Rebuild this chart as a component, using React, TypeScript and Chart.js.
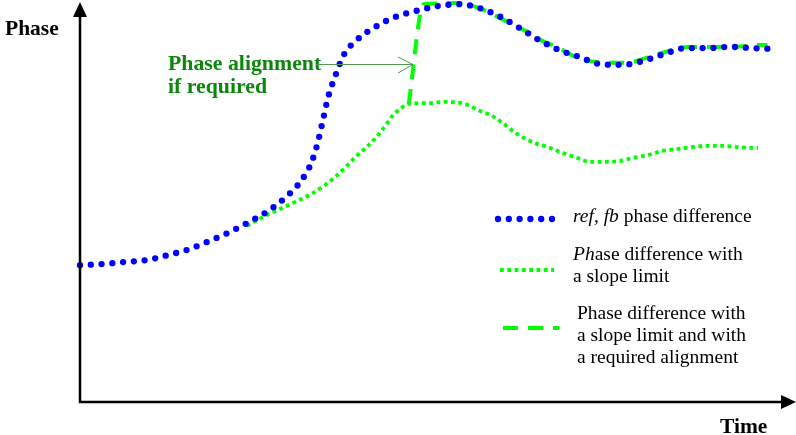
import React, { useEffect, useRef } from "react";
import { Chart, registerables } from "chart.js";

Chart.register(...registerables);

// Time / phase samples in arbitrary units (0..100 on both axes)
const refFbTime = [
  0.0, 3.2, 6.3, 9.4, 12.3, 15.3, 18.2, 21.0, 23.7, 26.4, 28.9, 31.0, 32.5, 33.4, 34.1, 34.8, 35.8, 37.0,
  38.8, 41.4, 44.2, 47.1, 50.1, 53.2, 56.1, 59.0, 61.7, 64.4, 67.2, 70.0, 72.9, 76.0, 79.0, 81.9, 85.0,
  88.1, 91.2, 94.2, 97.3,
];
const refFbPhase = [
  34.3, 34.6, 35.1, 35.6, 36.8, 38.3, 40.4, 42.6, 45.1, 47.9, 51.4, 55.4, 60.2, 65.4, 70.9, 76.4, 81.7, 87.0,
  90.7, 94.0, 96.5, 98.0, 99.2, 99.7, 98.7, 96.5, 93.7, 90.7, 88.2, 86.5, 84.7, 84.5, 85.5, 87.2, 88.7,
  88.7, 89.0, 88.7, 88.5,
];

const slopeTime = [
  23.4, 25.2, 27.1, 29.9, 32.7, 34.4, 35.8, 37.4, 38.8, 40.4, 41.8, 43.1, 43.8, 44.9, 46.0, 48.7, 51.2,
  54.0, 55.8, 57.8, 59.3, 61.1, 63.8, 65.6, 67.7, 69.7, 71.5, 73.6, 75.7, 77.6, 79.7, 81.6, 83.7, 85.8,
  87.9, 90.0, 92.1, 94.0, 95.1,
];
const slopePhase = [
  44.1, 45.9, 47.6, 49.9, 52.4, 54.4, 56.4, 59.1, 61.7, 64.2, 66.9, 69.9, 71.7, 73.4, 74.7, 74.9, 75.2,
  74.7, 73.2, 71.7, 69.9, 67.4, 64.9, 63.9, 62.4, 61.2, 60.2, 60.2, 60.4, 61.2, 61.9, 62.9, 63.4, 63.9,
  64.2, 64.2, 63.9, 63.7, 63.7,
];

const alignedTime = [
  46.1, 48.2, 50.2, 52.7, 54.7, 56.7, 58.9, 60.6, 62.8, 65.2, 66.9, 68.7, 70.1, 72.4, 74.8, 76.7, 79.0,
  81.1, 83.0, 85.3, 87.7, 91.2, 93.3, 95.1, 96.4,
];
const alignedPhase = [
  74.7, 99.7, 99.9, 100.0, 99.5, 98.2, 96.2, 94.7, 92.7, 90.2, 89.0, 87.2, 86.0, 85.2, 85.0, 85.0, 86.0,
  87.2, 88.2, 89.0, 89.0, 89.0, 89.2, 89.5, 89.5,
];

// Legend text, split into italic / upright runs, one array per printed line
type Run = { text: string; italic?: boolean };
const legendLines: Run[][][] = [
  [[{ text: "ref, fb", italic: true }, { text: " phase difference" }]],
  [[{ text: "Ph", italic: true }, { text: "ase difference with" }], [{ text: "a slope limit" }]],
  [
    [{ text: "Phase difference with" }],
    [{ text: "a slope limit and with" }],
    [{ text: "a required alignment" }],
  ],
];

const SERIF = '"Liberation Serif", "Times New Roman", serif';

const toPoints = (xs: number[], ys: number[]) => xs.map((x, i) => ({ x, y: ys[i] }));

function drawRuns(ctx: CanvasRenderingContext2D, runs: Run[], x: number, y: number, size: number) {
  let cx = x;
  for (const r of runs) {
    ctx.font = `${r.italic ? "italic " : ""}${size}px ${SERIF}`;
    ctx.fillText(r.text, cx, y);
    cx += ctx.measureText(r.text).width;
  }
}

const overlayPlugin = {
  id: "phaseOverlay",
  afterDraw(chart: any) {
    const ctx: CanvasRenderingContext2D = chart.ctx;
    const xs = chart.scales.x;
    const ys = chart.scales.y;
    const x0 = xs.getPixelForValue(0);
    const y0 = ys.getPixelForValue(0);
    ctx.save();

    // axes with arrow heads
    ctx.strokeStyle = "#000";
    ctx.fillStyle = "#000";
    ctx.lineWidth = 2.5;
    ctx.setLineDash([]);
    ctx.beginPath();
    ctx.moveTo(x0, y0 + 1.25);
    ctx.lineTo(x0, 16);
    ctx.moveTo(x0 - 1.25, y0);
    ctx.lineTo(783, y0);
    ctx.stroke();
    ctx.beginPath();
    ctx.moveTo(x0, 2);
    ctx.lineTo(x0 - 7, 17);
    ctx.lineTo(x0 + 7, 17);
    ctx.closePath();
    ctx.fill();
    ctx.beginPath();
    ctx.moveTo(796, y0);
    ctx.lineTo(781, y0 - 7);
    ctx.lineTo(781, y0 + 7);
    ctx.closePath();
    ctx.fill();

    // axis titles
    ctx.textBaseline = "alphabetic";
    ctx.textAlign = "left";
    ctx.font = `bold 21.5px ${SERIF}`;
    ctx.fillText("Phase", 5, 35);
    ctx.fillText("Time", 720, 433);

    // annotation
    ctx.fillStyle = "#0b870b";
    ctx.font = `bold 21.8px ${SERIF}`;
    ctx.fillText("Phase alignment", 168, 70);
    ctx.fillText("if required", 168, 93);
    ctx.strokeStyle = "#4f9a4f";
    ctx.lineWidth = 1;
    ctx.beginPath();
    ctx.moveTo(316, 64.5);
    ctx.lineTo(413, 64.5);
    ctx.moveTo(398, 57);
    ctx.lineTo(413, 64.5);
    ctx.lineTo(398, 73);
    ctx.stroke();

    // legend
    const samples = [
      { y: 219, x1: 498, x2: 557 },
      { y: 270, x1: 500, x2: 554 },
      { y: 328, x1: 503, x2: 559 },
    ];
    const textPos = [
      { x: 573, ys: [222] },
      { x: 573, ys: [260, 282] },
      { x: 577, ys: [319, 341, 363] },
    ];
    chart.data.datasets.forEach((ds: any, i: number) => {
      const s = samples[i];
      ctx.strokeStyle = ds.borderColor;
      ctx.lineWidth = ds.borderWidth;
      ctx.lineCap = ds.borderCapStyle;
      ctx.setLineDash(ds.borderDash);
      ctx.beginPath();
      ctx.moveTo(s.x1, s.y);
      ctx.lineTo(s.x2, s.y);
      ctx.stroke();
      ctx.setLineDash([]);
      ctx.fillStyle = "#000";
      legendLines[i].forEach((line, j) => drawRuns(ctx, line, textPos[i].x, textPos[i].ys[j], 19.5));
    });

    ctx.restore();
  },
};

export default function App() {
  const canvasRef = useRef<HTMLCanvasElement>(null);

  useEffect(() => {
    const canvas = canvasRef.current;
    if (!canvas) return;
    const chart = new Chart(canvas, {
      type: "line",
      data: {
        datasets: [
          {
            label: "ref, fb phase difference",
            data: toPoints(refFbTime, refFbPhase),
            borderColor: "#0000ff",
            borderWidth: 6.3,
            borderDash: [0, 10.8],
            borderCapStyle: "round",
            cubicInterpolationMode: "monotone",
            pointRadius: 0,
            fill: false,
            clip: false,
          },
          {
            label: "Phase difference with a slope limit",
            data: toPoints(slopeTime, slopePhase),
            borderColor: "#00ff00",
            borderWidth: 3.8,
            borderDash: [3.8, 3.5],
            borderCapStyle: "butt",
            cubicInterpolationMode: "monotone",
            pointRadius: 0,
            fill: false,
            clip: false,
          },
          {
            label: "Phase difference with a slope limit and with a required alignment",
            data: toPoints(alignedTime, alignedPhase),
            borderColor: "#00ff00",
            borderWidth: 4,
            borderDash: [15, 10],
            borderCapStyle: "butt",
            cubicInterpolationMode: "monotone",
            pointRadius: 0,
            fill: false,
            clip: false,
          },
        ],
      } as any,
      options: {
        responsive: false,
        animation: false,
        layout: { padding: { left: 80, right: 3, top: 3, bottom: 33 } },
        scales: {
          x: { type: "linear", min: 0, max: 100, display: false },
          y: { type: "linear", min: 0, max: 100, display: false },
        },
        plugins: {
          legend: { display: false },
          tooltip: { enabled: false },
        },
      },
      plugins: [overlayPlugin],
    });
    return () => chart.destroy();
  }, []);

  return (
    <div style={{ position: "absolute", left: 0, top: 0, width: 796, height: 435, background: "#fff" }}>
      <canvas ref={canvasRef} width={796} height={435} />
    </div>
  );
}
